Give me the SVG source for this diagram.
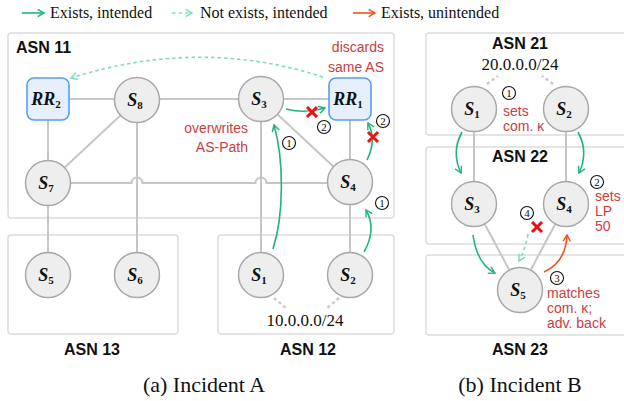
<svg xmlns="http://www.w3.org/2000/svg" width="624" height="401" viewBox="0 0 624 401">
<defs>
<style>
.box{fill:none;stroke:#dcdcdc;stroke-width:1.5}
.ln{fill:none;stroke:#c6c6c6;stroke-width:2}
.pf{fill:none;stroke:#c8c8c8;stroke-width:2.5;stroke-dasharray:3 3}
.nd{fill:#eeeeee;stroke:#a8a8a8;stroke-width:1.5}
.rr{fill:#e6f0fd;stroke:#5b9cf4;stroke-width:1.6}
.nl{font-family:"Liberation Serif",serif;font-weight:bold;font-style:italic;font-size:18px;fill:#111}
.sub{font-size:11px;font-style:normal}
.asn{font-family:"Liberation Sans",sans-serif;font-weight:bold;font-size:16px;fill:#111}
.serif{font-family:"Liberation Serif",serif;fill:#111}
.note{font-family:"Liberation Sans",sans-serif;font-size:14px;fill:#c9403f}
.ga{fill:none;stroke:#1fb57a;stroke-width:1.6}
.da{fill:none;stroke:#7ddcb8;stroke-width:1.6;stroke-dasharray:3.5 3}
.oa{fill:none;stroke:#f4511e;stroke-width:1.6}
.cn circle{fill:#fff;stroke:#111;stroke-width:1.1}
.cn text{font-family:"Liberation Serif",serif;font-size:11px;fill:#111;text-anchor:middle}
.x{stroke:#ee1111;stroke-width:3;stroke-linecap:butt}
</style>
<marker id="mg" viewBox="0 0 10 10" refX="9" refY="5" markerWidth="9" markerHeight="9" markerUnits="userSpaceOnUse" orient="auto"><path d="M2,1 L9,5 L2,9" fill="none" stroke="#1fb57a" stroke-width="1.6"/></marker>
<marker id="md" viewBox="0 0 10 10" refX="9" refY="5" markerWidth="9" markerHeight="9" markerUnits="userSpaceOnUse" orient="auto"><path d="M2,1 L9,5 L2,9" fill="none" stroke="#7ddcb8" stroke-width="1.6"/></marker>
<marker id="mo" viewBox="0 0 10 10" refX="9" refY="5" markerWidth="9" markerHeight="9" markerUnits="userSpaceOnUse" orient="auto"><path d="M2,1 L9,5 L2,9" fill="none" stroke="#f4511e" stroke-width="1.6"/></marker>
</defs>
<rect width="624" height="401" fill="#fff"/>

<g id="legend">
<path class="ga" d="M22 13 H44" marker-end="url(#mg)"/>
<text class="serif" x="50" y="18" font-size="16">Exists, intended</text>
<path class="da" d="M172 13 H192" marker-end="url(#md)"/>
<text class="serif" x="200" y="18" font-size="16">Not exists, intended</text>
<path class="oa" d="M353 13 H375" marker-end="url(#mo)"/>
<text class="serif" x="381" y="18" font-size="16">Exists, unintended</text>
</g>

<g id="boxes">
<rect class="box" x="8" y="33" width="386" height="185" rx="3"/>
<rect class="box" x="8" y="235" width="170" height="99" rx="3"/>
<rect class="box" x="218" y="235" width="176" height="99" rx="3"/>
<rect class="box" x="426" y="33" width="200" height="102" rx="3"/>
<rect class="box" x="426" y="147" width="200" height="97" rx="3"/>
<rect class="box" x="426" y="255" width="200" height="80" rx="3"/>
<text class="asn" x="16" y="53">ASN 11</text>
<text class="asn" x="92" y="355" text-anchor="middle">ASN 13</text>
<text class="asn" x="308" y="355" text-anchor="middle">ASN 12</text>
<text class="asn" x="520" y="49" text-anchor="middle">ASN 21</text>
<text class="asn" x="520" y="162" text-anchor="middle">ASN 22</text>
<text class="asn" x="520" y="355" text-anchor="middle">ASN 23</text>
</g>

<g id="connectors">
<path class="ln" d="M48 99 H350"/>
<path class="ln" d="M48 99 V183"/>
<path class="ln" d="M137 100 L48 183"/>
<path class="ln" d="M137 100 V275"/>
<path class="ln" d="M48 183 V275"/>
<path class="ln" d="M261 99 V275"/>
<path class="ln" d="M261 99 L350 182"/>
<path class="ln" d="M350 99 V275"/>
<path class="ln" d="M48 183 H131.5 A5.5 5.5 0 0 1 142.5 183 H255.5 A5.5 5.5 0 0 1 266.5 183 H350"/>
<path class="pf" d="M274 298 L287 309"/>
<path class="pf" d="M339 298 L326 309"/>
<path class="ln" d="M474 109 V204"/>
<path class="ln" d="M566 109 V204"/>
<path class="ln" d="M474 204 L520 290"/>
<path class="ln" d="M566 204 L520 290"/>
<path class="pf" d="M487 84 L498 76"/>
<path class="pf" d="M553 84 L542 76"/>
</g>

<g id="RR2"><rect class="rr" x="27" y="78" width="42" height="42" rx="7"/><text class="nl" x="46" y="105" text-anchor="middle">RR<tspan class="sub" dy="3">2</tspan></text></g>
<g id="S8"><circle class="nd" cx="137" cy="100" r="22.5"/><text class="nl" x="135" y="106" text-anchor="middle">S<tspan class="sub" dy="3">8</tspan></text></g>
<g id="S7"><circle class="nd" cx="48" cy="183" r="22.5"/><text class="nl" x="46" y="189" text-anchor="middle">S<tspan class="sub" dy="3">7</tspan></text></g>
<g id="S3a"><circle class="nd" cx="261" cy="99" r="22.5"/><text class="nl" x="259" y="105" text-anchor="middle">S<tspan class="sub" dy="3">3</tspan></text></g>
<g id="RR1"><rect class="rr" x="329" y="78" width="42" height="42" rx="7"/><text class="nl" x="348" y="105" text-anchor="middle">RR<tspan class="sub" dy="3">1</tspan></text></g>
<g id="S4a"><circle class="nd" cx="350" cy="182" r="22.5"/><text class="nl" x="348" y="188" text-anchor="middle">S<tspan class="sub" dy="3">4</tspan></text></g>
<g id="S5a"><circle class="nd" cx="48" cy="275" r="22.5"/><text class="nl" x="46" y="281" text-anchor="middle">S<tspan class="sub" dy="3">5</tspan></text></g>
<g id="S6"><circle class="nd" cx="137" cy="275" r="22.5"/><text class="nl" x="135" y="281" text-anchor="middle">S<tspan class="sub" dy="3">6</tspan></text></g>
<g id="S1a"><circle class="nd" cx="261" cy="275" r="22.5"/><text class="nl" x="259" y="281" text-anchor="middle">S<tspan class="sub" dy="3">1</tspan></text></g>
<g id="S2a"><circle class="nd" cx="350" cy="275" r="22.5"/><text class="nl" x="348" y="281" text-anchor="middle">S<tspan class="sub" dy="3">2</tspan></text></g>

<g id="S1b"><circle class="nd" cx="474" cy="109" r="22.5"/><text class="nl" x="472" y="115" text-anchor="middle">S<tspan class="sub" dy="3">1</tspan></text></g>
<g id="S2b"><circle class="nd" cx="566" cy="109" r="22.5"/><text class="nl" x="564" y="115" text-anchor="middle">S<tspan class="sub" dy="3">2</tspan></text></g>
<g id="S3b"><circle class="nd" cx="474" cy="204" r="22.5"/><text class="nl" x="472" y="210" text-anchor="middle">S<tspan class="sub" dy="3">3</tspan></text></g>
<g id="S4b"><circle class="nd" cx="566" cy="204" r="22.5"/><text class="nl" x="564" y="210" text-anchor="middle">S<tspan class="sub" dy="3">4</tspan></text></g>
<g id="S5b"><circle class="nd" cx="520" cy="290" r="22.5"/><text class="nl" x="518" y="296" text-anchor="middle">S<tspan class="sub" dy="3">5</tspan></text></g>

<g id="arrows">
<path class="da" d="M323 77 Q200 37 71 78" marker-end="url(#md)"/>
<path class="ga" d="M273 249 C284 215 284 160 274 125" marker-end="url(#mg)"/>
<path class="ga" d="M364 252 C373 236 373 222 366 210" marker-end="url(#mg)"/>
<path class="ga" d="M286 109 Q305 114 325 108" marker-end="url(#mg)"/>
<path class="ga" d="M367 160 Q377 140 368 123" marker-end="url(#mg)"/>
<path class="ga" d="M462 132 Q451 152 461 173" marker-end="url(#mg)"/>
<path class="ga" d="M578 132 Q589 152 579 173" marker-end="url(#mg)"/>
<path class="ga" d="M473 235 Q477 264 495 273" marker-end="url(#mg)"/>
<path class="da" d="M528 234 Q525 250 519 261" marker-end="url(#md)"/>
<path class="oa" d="M544 272 Q566 262 567 235" marker-end="url(#mo)"/>
</g>

<g id="crosses">
<path class="x" d="M307 107 L317 117 M317 107 L307 117"/>
<path class="x" d="M368 132 L378 142 M378 132 L368 142"/>
<path class="x" d="M532 222 L542 232 M542 222 L532 232"/>
</g>

<g id="steps" class="cn">
<circle cx="289" cy="143" r="6.5"/><text x="289" y="147">1</text>
<circle cx="324" cy="127" r="6.5"/><text x="324" y="131">2</text>
<circle cx="383" cy="121" r="6.5"/><text x="383" y="125">2</text>
<circle cx="382" cy="203" r="6.5"/><text x="382" y="207">1</text>
<circle cx="509" cy="93" r="6.5"/><text x="509" y="97">1</text>
<circle cx="597" cy="182" r="6.5"/><text x="597" y="186">2</text>
<circle cx="527" cy="213" r="6.5"/><text x="527" y="217">4</text>
<circle cx="557" cy="278" r="6.5"/><text x="557" y="282">3</text>
</g>

<g id="notes">
<text class="note" x="248" y="133" font-size="15" text-anchor="end">overwrites</text>
<text class="note" x="248" y="152" font-size="15" text-anchor="end">AS-Path</text>
<text class="note" x="384" y="52" font-size="15" text-anchor="end">discards</text>
<text class="note" x="384" y="72" font-size="15" text-anchor="end">same AS</text>
<text class="note" x="503" y="116">sets</text>
<text class="note" x="503" y="131">com. κ</text>
<text class="note" x="595" y="201">sets</text>
<text class="note" x="595" y="216">LP</text>
<text class="note" x="595" y="231">50</text>
<text class="note" x="547" y="298">matches</text>
<text class="note" x="547" y="313">com. κ;</text>
<text class="note" x="547" y="328">adv. back</text>
</g>

<g id="labels">
<text class="serif" x="305" y="326" font-size="17" text-anchor="middle">10.0.0.0/24</text>
<text class="serif" x="520" y="70" font-size="17" text-anchor="middle">20.0.0.0/24</text>
<text class="serif" x="204" y="392" font-size="22" text-anchor="middle">(a) Incident A</text>
<text class="serif" x="520" y="392" font-size="22" text-anchor="middle">(b) Incident B</text>
</g>
</svg>
